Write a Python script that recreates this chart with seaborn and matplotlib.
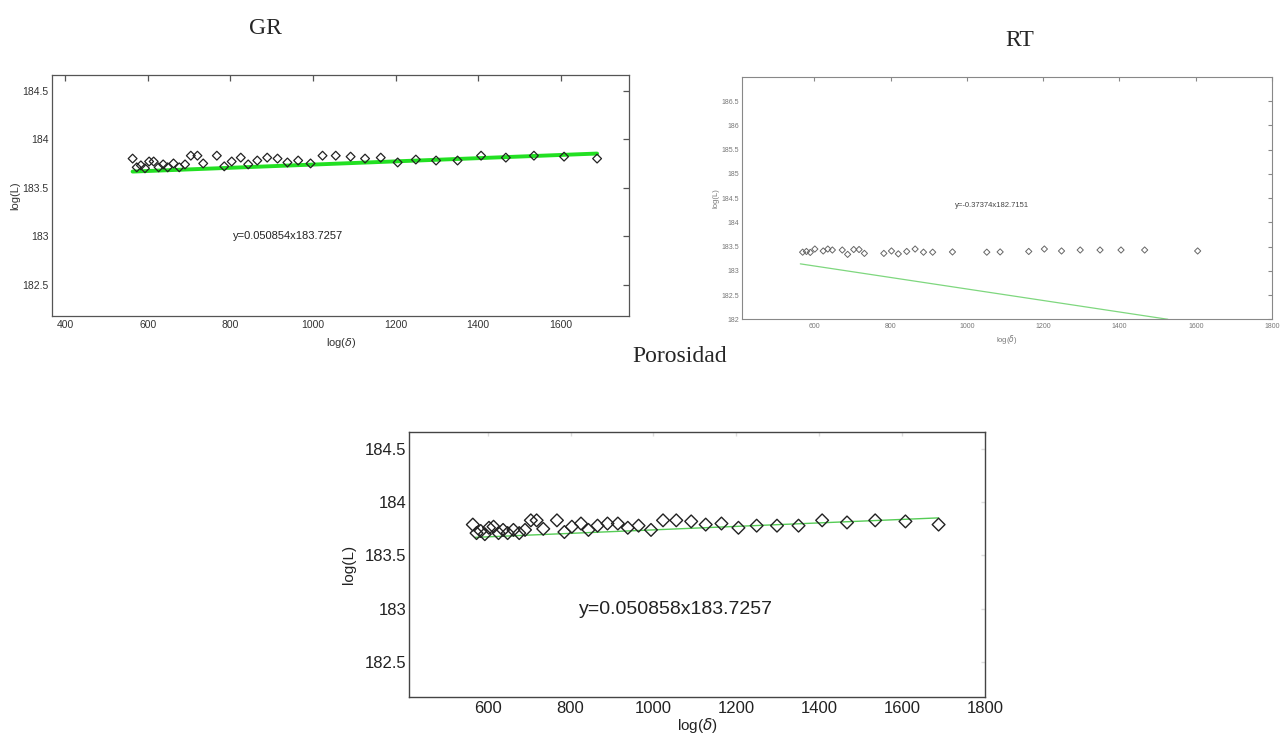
import matplotlib
matplotlib.use("Agg")
import matplotlib.pyplot as plt
import seaborn as sns
import pandas as pd

# ---------------- data ----------------
gr_x = [563, 573, 583, 593, 603, 614, 626, 637, 648, 662, 676, 690, 704, 720, 734,
        767, 785, 803, 825, 843, 865, 889, 914, 938, 964, 994, 1023, 1055, 1091,
        1126, 1164, 1205, 1249, 1298, 1350, 1407, 1467, 1535, 1608, 1688]
gr_y = [183.80, 183.71, 183.73, 183.70, 183.77, 183.77, 183.71, 183.74, 183.71, 183.75,
        183.71, 183.74, 183.83, 183.83, 183.75, 183.83, 183.72, 183.77, 183.81, 183.74,
        183.78, 183.81, 183.80, 183.76, 183.78, 183.75, 183.83, 183.83, 183.82, 183.80,
        183.81, 183.76, 183.79, 183.78, 183.78, 183.83, 183.81, 183.83, 183.82, 183.80]
gr_fit_x = [563, 1688]
gr_fit_y = [183.666, 183.852]
gr_eq = "y=0.050854x183.7257"

rt_x = [569, 579, 589, 601, 623, 635, 647, 673, 687, 703, 717, 731, 782, 802, 820,
        842, 864, 886, 910, 962, 1052, 1087, 1162, 1203, 1248, 1297, 1349, 1404, 1466, 1605]
rt_y = [183.385, 183.40, 183.38, 183.45, 183.41, 183.45, 183.43, 183.43, 183.34, 183.44,
        183.44, 183.36, 183.36, 183.41, 183.35, 183.40, 183.45, 183.385, 183.385, 183.39,
        183.385, 183.39, 183.40, 183.45, 183.41, 183.43, 183.43, 183.43, 183.43, 183.41]
rt_fit_x = [563, 1527]
rt_fit_y = [183.144, 182.0]
rt_eq = "y=-0.37374x182.7151"

por_x = [564, 573, 583, 593, 603, 614, 626, 637, 648, 662, 676, 690, 704, 718, 734,
         767, 785, 803, 825, 843, 865, 889, 914, 938, 964, 994, 1023, 1055, 1091,
         1126, 1164, 1205, 1249, 1298, 1350, 1407, 1467, 1535, 1608, 1688]
por_y = [183.79, 183.71, 183.73, 183.70, 183.76, 183.77, 183.71, 183.74, 183.71, 183.74,
         183.71, 183.74, 183.83, 183.83, 183.75, 183.83, 183.72, 183.77, 183.80, 183.74,
         183.78, 183.80, 183.80, 183.76, 183.78, 183.74, 183.83, 183.83, 183.82, 183.79,
         183.80, 183.76, 183.78, 183.78, 183.78, 183.83, 183.81, 183.83, 183.82, 183.79]
por_fit_x = [570, 1688]
por_fit_y = [183.67, 183.853]
por_eq = "y=0.050858x183.7257"

y_ticks_main = [182.5, 183, 183.5, 184, 184.5]
y_tick_labels_main = ["182.5", "183", "183.5", "184", "184.5"]
gr_x_ticks = [400, 600, 800, 1000, 1200, 1400, 1600]
rt_x_ticks = [600, 800, 1000, 1200, 1400, 1600, 1800]
rt_y_ticks = [182, 182.5, 183, 183.5, 184, 184.5, 185, 185.5, 186, 186.5]
rt_y_tick_labels = ["182", "182.5", "183", "183.5", "184", "184.5", "185", "185.5", "186", "186.5"]
por_x_ticks = [600, 800, 1000, 1200, 1400, 1600, 1800]

titles = ["GR", "RT", "Porosidad"]

# ---------------- style ----------------
sns.set_style("white")
plt.rcParams["font.family"] = ["Liberation Sans", "DejaVu Sans"]
plt.rcParams["mathtext.fontset"] = "dejavusans"

fig = plt.figure(figsize=(12.8, 7.34), dpi=100)
W, H = 1280.0, 734.0


def add_ax(l, t, r, b):
    return fig.add_axes([l / W, 1 - b / H, (r - l) / W, (b - t) / H])


def style_axes(ax, spine_col, lw, tick_len, label_size, label_col, pad):
    for s in ax.spines.values():
        s.set_color(spine_col)
        s.set_linewidth(lw)
        s.set_visible(True)
    ax.tick_params(direction="in", top=True, right=True, length=tick_len,
                   width=lw, colors=spine_col, labelsize=label_size,
                   labelcolor=label_col, pad=pad)


# ---------------- GR ----------------
ax1 = add_ax(52.3, 74.5, 629.3, 316)
sns.lineplot(x=gr_fit_x, y=gr_fit_y, ax=ax1, color="#22e022", lw=2.8, zorder=2)
sns.scatterplot(x=gr_x, y=gr_y, ax=ax1, marker="D", s=20, facecolor="none",
                edgecolor="#222222", linewidth=0.9, zorder=3)
ax1.set_xlim(368.5, 1766)
ax1.set_ylim(182.177, 184.667)
ax1.set_xticks(gr_x_ticks)
ax1.set_yticks(y_ticks_main)
ax1.set_yticklabels(y_tick_labels_main)
style_axes(ax1, "#555555", 0.9, 4, 7.5, "#333333", 3)
ax1.tick_params(axis="y", pad=2.5)
ax1.set_xlabel(r"log($\delta$)", fontsize=8, color="#333333", labelpad=4)
ax1.set_ylabel("log(L)", fontsize=8, color="#333333", labelpad=1.5)
ax1.text(940, 183.0, gr_eq, fontsize=8, color="#222222", ha="center", va="center")

# ---------------- RT ----------------
ax2 = add_ax(742, 77, 1272, 319.3)
sns.lineplot(x=rt_fit_x, y=rt_fit_y, ax=ax2, color="#7ed77e", lw=0.9, zorder=2)
sns.scatterplot(x=rt_x, y=rt_y, ax=ax2, marker="D", s=10, facecolor="none",
                edgecolor="#666666", linewidth=0.7, zorder=3)
ax2.set_xlim(410, 1800)
ax2.set_ylim(182, 187)
ax2.set_xticks(rt_x_ticks)
ax2.set_yticks(rt_y_ticks)
ax2.set_yticklabels(rt_y_tick_labels)
style_axes(ax2, "#888888", 0.8, 3, 5, "#777777", 3)
ax2.tick_params(axis="y", pad=2)
ax2.set_xlabel(r"log($\delta$)", fontsize=5.5, color="#777777", labelpad=2)
ax2.set_ylabel("log(L)", fontsize=5.5, color="#777777", labelpad=1.5)
ax2.text(1067, 184.35, rt_eq, fontsize=5.5, color="#444444", ha="center", va="center")

# ---------------- Porosidad ----------------
ax3 = add_ax(409, 432, 985, 697)
sns.lineplot(x=por_fit_x, y=por_fit_y, ax=ax3, color="#55cc55", lw=1.0, zorder=2)
sns.scatterplot(x=por_x, y=por_y, ax=ax3, marker="D", s=42, facecolor="none",
                edgecolor="#222222", linewidth=1.0, zorder=3)
ax3.set_xlim(410, 1800)
ax3.set_ylim(182.17, 184.66)
ax3.set_xticks(por_x_ticks)
ax3.set_yticks(y_ticks_main)
ax3.set_yticklabels(y_tick_labels_main)
style_axes(ax3, "#444444", 1.0, 3, 12, "#222222", 3)
ax3.tick_params(top=True, right=True, colors="#dddddd", labelcolor="#222222")
ax3.tick_params(axis="y", pad=2)
ax3.set_xlabel(r"log($\delta$)", fontsize=11, color="#222222", labelpad=0)
ax3.set_ylabel("log(L)", fontsize=11, color="#222222", labelpad=6)
ax3.text(1055, 182.99, por_eq, fontsize=14, color="#222222", ha="center", va="center")

# ---------------- titles ----------------
serif = ["Liberation Serif", "DejaVu Serif"]
fig.text(265 / W, 1 - 28 / H, titles[0], fontsize=17, family=serif, ha="center", va="center")
fig.text(1020 / W, 1 - 40 / H, titles[1], fontsize=17, family=serif, ha="center", va="center")
fig.text(680 / W, 1 - 357 / H, titles[2], fontsize=17, family=serif, ha="center", va="center")

fig.savefig("out.png", dpi=100, facecolor="white")
